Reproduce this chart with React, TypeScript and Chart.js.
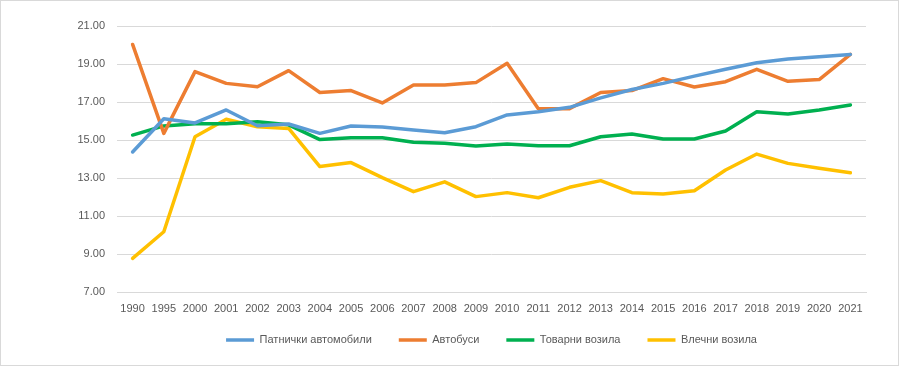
import React, { useEffect, useRef } from "react";
import { Chart, registerables } from "chart.js";

Chart.register(...registerables);

const categories = [
  "1990", "1995", "2000", "2001", "2002", "2003", "2004", "2005", "2006", "2007", "2008", "2009",
  "2010", "2011", "2012", "2013", "2014", "2015", "2016", "2017", "2018", "2019", "2020", "2021",
];

const passengerCars = [
  14.37, 16.12, 15.9, 16.58, 15.75, 15.84, 15.35, 15.74, 15.68, 15.53, 15.38, 15.7,
  16.32, 16.49, 16.72, 17.22, 17.66, 17.98, 18.36, 18.72, 19.07, 19.26, 19.38, 19.5,
];
const buses = [
  20.03, 15.35, 18.6, 17.98, 17.8, 18.65, 17.5, 17.6, 16.95, 17.9, 17.9, 18.02,
  19.04, 16.65, 16.65, 17.5, 17.6, 18.23, 17.79, 18.07, 18.72, 18.09, 18.18, 19.51,
];
const trucks = [
  15.26, 15.74, 15.86, 15.86, 15.96, 15.8, 15.02, 15.12, 15.12, 14.88, 14.83, 14.68,
  14.79, 14.7, 14.7, 15.17, 15.32, 15.05, 15.05, 15.47, 16.49, 16.37, 16.58, 16.84,
];
const tractors = [
  8.77, 10.17, 15.17, 16.09, 15.7, 15.61, 13.6, 13.81, 13.02, 12.28, 12.8, 12.02,
  12.23, 11.96, 12.51, 12.86, 12.23, 12.16, 12.33, 13.42, 14.26, 13.77, 13.51, 13.28,
];

const seriesNames = ["Патнички автомобили", "Автобуси", "Товарни возила", "Влечни возила"];
const seriesColors = ["#5B9BD5", "#ED7D31", "#00B050", "#FFC000"];
const yTicks = [7, 9, 11, 13, 15, 17, 19, 21];

const FONT = "'Liberation Sans', Arial, sans-serif";

export default function App() {
  const ref = useRef<HTMLCanvasElement | null>(null);

  useEffect(() => {
    if (!ref.current) return;
    const values = [passengerCars, buses, trucks, tractors];
    const legendFitPlugin = {
      id: "legendFit",
      beforeInit(chart: any) {
        const lg = chart.legend;
        if (lg) {
          const orig = lg.fit;
          lg.fit = function () {
            orig.call(this);
            this.height = 45;
          };
        }
      },
      afterLayout(chart: any) {
        const lg = chart.legend;
        if (lg) {
          lg.top -= 12.5;
          lg.bottom -= 12.5;
        }
      },
    };
    const chart = new Chart(ref.current, {
      type: "line",
      data: {
        labels: categories,
        datasets: values.map((v, i) => ({
          label: seriesNames[i],
          data: v,
          borderColor: seriesColors[i],
          backgroundColor: seriesColors[i],
          borderWidth: 3.5,
          borderCapStyle: "round" as const,
          borderJoinStyle: "round" as const,
          pointRadius: 0,
          pointHoverRadius: 0,
          tension: 0,
          fill: false,
        })),
      },
      plugins: [legendFitPlugin],
      options: {
        responsive: false,
        animation: false,
        layout: { padding: { left: 0, right: 32, top: 25, bottom: 0 } },
        plugins: {
          tooltip: { enabled: false },
          legend: {
            position: "bottom",
            fullSize: false,
            labels: {
              usePointStyle: true,
              pointStyle: "line",
              pointStyleWidth: 28,
              boxHeight: 11,
              padding: 27,
              color: "#595959",
              font: { family: FONT, size: 11 },
            },
          },
        },
        scales: {
          x: {
            offset: true,
            grid: { display: false, drawTicks: false, offset: true },
            border: { display: true, color: "#d9d9d9" },
            ticks: {
              color: "#595959",
              font: { family: FONT, size: 11 },
              padding: 10,
              maxRotation: 0,
              autoSkip: false,
            },
            afterFit(s: any) {
              s.height = 28;
            },
          },
          y: {
            min: 7,
            max: 21,
            afterBuildTicks(s: any) {
              s.ticks = yTicks.map((v) => ({ value: v }));
            },
            grid: { color: "#d9d9d9", drawTicks: false },
            border: { display: false },
            ticks: {
              color: "#595959",
              font: { family: FONT, size: 11 },
              padding: 12,
              callback: (v: any) => Number(v).toFixed(2),
            },
            afterFit(s: any) {
              s.width = 116;
            },
          },
        },
      },
    });
    return () => chart.destroy();
  }, []);

  return (
    <div
      style={{
        position: "absolute",
        left: 0,
        top: 0,
        width: 899,
        height: 366,
        boxSizing: "border-box",
        border: "1px solid #d9d9d9",
        background: "#ffffff",
      }}
    >
      <canvas ref={ref} width={897} height={364} style={{ display: "block", width: 897, height: 364 }} />
    </div>
  );
}
